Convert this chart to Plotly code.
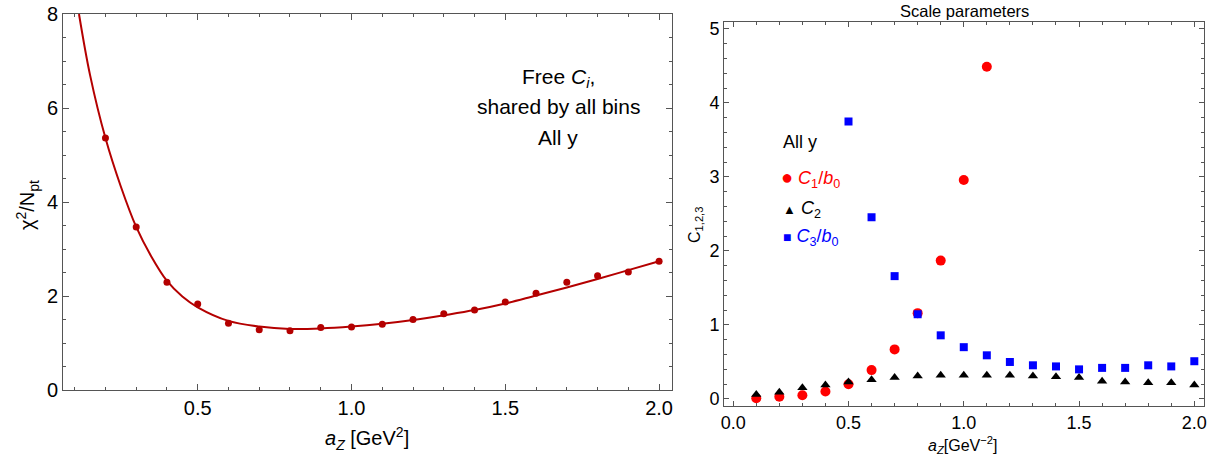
import plotly.graph_objects as go

# ---- Left panel data ----
az_pts = [0.2, 0.3, 0.4, 0.5, 0.6, 0.7, 0.8, 0.9, 1.0, 1.1, 1.2, 1.3, 1.4, 1.5, 1.6, 1.7, 1.8, 1.9, 2.0]
chi2_pts = [5.36, 3.47, 2.29, 1.83, 1.42, 1.28, 1.26, 1.33, 1.34, 1.40, 1.50, 1.62, 1.70, 1.87, 2.06, 2.29, 2.43, 2.51, 2.74]

az_fit = [0.114, 0.15, 0.2, 0.25, 0.3, 0.35, 0.4, 0.45, 0.5, 0.6, 0.7, 0.8, 0.9, 1.0, 1.1, 1.2, 1.3, 1.4, 1.5, 1.6, 1.7, 1.8, 1.9, 2.0]
chi2_fit = [8.0, 6.7, 5.36, 4.33, 3.47, 2.83, 2.32, 1.99, 1.76, 1.47, 1.35, 1.30, 1.31, 1.35, 1.41, 1.49, 1.59, 1.70, 1.84, 2.01, 2.18, 2.36, 2.55, 2.74]

# ---- Right panel data ----
az_all = [0.1, 0.2, 0.3, 0.4, 0.5, 0.6, 0.7, 0.8, 0.9, 1.0, 1.1, 1.2, 1.3, 1.4, 1.5, 1.6, 1.7, 1.8, 1.9, 2.0]
c1_x = [0.1, 0.2, 0.3, 0.4, 0.5, 0.6, 0.7, 0.8, 0.9, 1.0, 1.1]
c1_b0 = [0.01, 0.03, 0.05, 0.10, 0.20, 0.39, 0.67, 1.16, 1.87, 2.96, 4.49]
c2 = [0.06, 0.09, 0.15, 0.19, 0.23, 0.26, 0.29, 0.31, 0.32, 0.32, 0.32, 0.32, 0.31, 0.30, 0.29, 0.24, 0.23, 0.22, 0.22, 0.19]
c3_x = [0.5, 0.6, 0.7, 0.8, 0.9, 1.0, 1.1, 1.2, 1.3, 1.4, 1.5, 1.6, 1.7, 1.8, 1.9, 2.0]
c3_b0 = [3.75, 2.455, 1.66, 1.145, 0.86, 0.70, 0.59, 0.50, 0.455, 0.44, 0.40, 0.42, 0.42, 0.455, 0.44, 0.51]

FONT = "Liberation Sans, Arial, sans-serif"
DARKRED = "#b40000"
AXC = "#555555"
W, H = 1212, 458

fig = go.Figure()
fig.add_trace(go.Scatter(x=az_fit, y=chi2_fit, mode="lines", line=dict(color=DARKRED, width=2, shape="spline", smoothing=1.0),
                         xaxis="x", yaxis="y", showlegend=False, hoverinfo="skip"))
fig.add_trace(go.Scatter(x=az_pts, y=chi2_pts, mode="markers", marker=dict(color=DARKRED, size=7),
                         xaxis="x", yaxis="y", showlegend=False))

fig.add_trace(go.Scatter(x=c1_x, y=c1_b0, mode="markers", marker=dict(color="#ff0000", size=10, symbol="circle"),
                         xaxis="x2", yaxis="y2", showlegend=False))
fig.add_trace(go.Scatter(x=az_all, y=c2, mode="markers", marker=dict(color="#000000", size=9, symbol="triangle-up"),
                         xaxis="x2", yaxis="y2", showlegend=False))
fig.add_trace(go.Scatter(x=c3_x, y=c3_b0, mode="markers", marker=dict(color="#0000ff", size=8, symbol="square"),
                         xaxis="x2", yaxis="y2", showlegend=False))

def px_x(p):
    return p / W

def px_y(p):
    return 1 - p / H

common = dict(showline=True, linecolor=AXC, linewidth=1, mirror="ticks", ticks="inside", tickcolor=AXC,
              showgrid=False, zeroline=False, ticklabeloverflow="allow", automargin=False)

fig.update_layout(
    width=W, height=H, margin=dict(l=0, r=0, t=0, b=0, pad=0, autoexpand=False), autosize=False,
    paper_bgcolor="white", plot_bgcolor="white",
    font=dict(family=FONT, color="#000000"),
    xaxis=dict(domain=[63 / W, 672 / W], range=[0.062, 2.042], tick0=0, dtick=0.5, tickformat=".1f", ticklen=6,
               minor=dict(dtick=0.1, tick0=0, ticklen=3, ticks="inside", tickcolor=AXC),
               tickfont=dict(size=20), anchor="y", **common),
    yaxis=dict(domain=[1 - 390 / H, 1 - 14 / H], range=[0, 8], tick0=0, dtick=2, tickformat="d", ticklen=6,
               minor=dict(dtick=0.5, tick0=0, ticklen=3, ticks="inside", tickcolor=AXC),
               tickfont=dict(size=20), anchor="x", **common),
    xaxis2=dict(domain=[724 / W, 1204 / W], range=[-0.040, 2.042], tick0=0, dtick=0.5, tickformat=".1f", ticklen=5,
                minor=dict(dtick=0.1, tick0=0, ticklen=3, ticks="inside", tickcolor=AXC),
                tickfont=dict(size=18), anchor="y2", **common),
    yaxis2=dict(domain=[1 - 406 / H, 1 - 22.3 / H], range=[-0.095, 5.09], tick0=0, dtick=1, tickformat="d", ticklen=5,
                minor=dict(dtick=0.2, tick0=0, ticklen=3, ticks="inside", tickcolor=AXC),
                tickfont=dict(size=18), anchor="x2", **common),
)

ann = []
def add_text(x, y, text, size, color="#000000", angle=0, xanchor="center"):
    ann.append(dict(x=px_x(x), y=px_y(y), xref="paper", yref="paper", text=text, showarrow=False,
                    font=dict(size=size, color=color, family=FONT), textangle=angle,
                    xanchor=xanchor, yanchor="middle"))

# Left panel titles
add_text(27, 205, "χ<sup>2</sup>/N<sub>pt</sub>", 20, angle=-90)
add_text(367, 438, "<i>a<sub>Z</sub></i> [GeV<sup>2</sup>]", 20)
add_text(558, 78, "Free <i>C<sub>i</sub></i>,", 21)
add_text(558, 107, "shared by all bins", 21)
add_text(558, 137, "All y", 21)

# Right panel titles
add_text(964, 11, "Scale parameters", 16.5)
add_text(695, 225, "C<sub>1,2,3</sub>", 16, angle=-90)
add_text(962, 445, "<i>a<sub>Z</sub></i>[GeV<sup>−2</sup>]", 16)

# Right legend
add_text(781, 142, "All y", 18, xanchor="left")
add_text(779, 178, "<span style='font-size:20px'>●</span> <i>C</i><sub>1</sub>/<i>b</i><sub>0</sub>", 18, color="#ff0000", xanchor="left")
add_text(781, 209, "<span style='font-size:13px'>▲</span> <i>C</i><sub>2</sub>", 18, color="#000000", xanchor="left")
add_text(781, 237, "<span style='font-size:14px'>■</span> <i>C</i><sub>3</sub>/<i>b</i><sub>0</sub>", 18, color="#0000ff", xanchor="left")

fig.update_layout(annotations=ann)
fig.write_html("out.html", config={"displayModeBar": False, "responsive": False},
               post_script="document.body.style.margin='0';document.body.style.overflow='hidden';")
